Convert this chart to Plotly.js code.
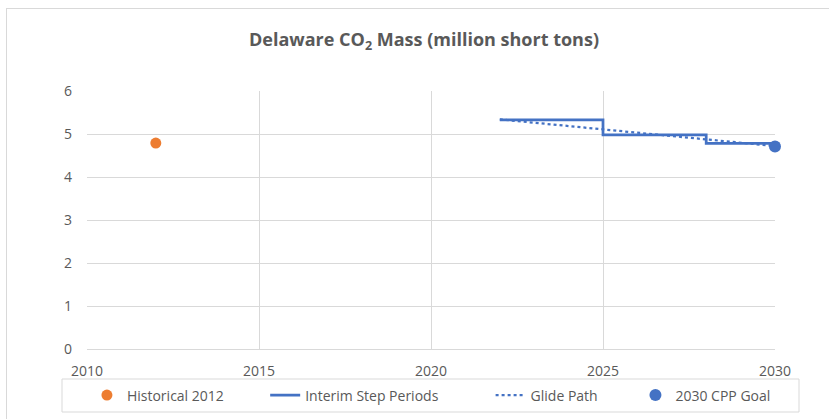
<!DOCTYPE html>
<html>
<head>
<meta charset="utf-8">
<script src="https://cdn.plot.ly/plotly-3.0.1.min.js"></script>
<style>
  html, body { margin: 0; padding: 0; background: #fff; overflow: hidden; }
  #chart { width: 829px; height: 419px; }
  #frame { position: absolute; left: 6px; top: 8px; width: 900px; height: 500px; border: 1px solid #d9d9d9; pointer-events: none; }
</style>
</head>
<body>
<div id="chart"></div>
<div id="frame"></div>
<script>
// Data
const histYears = [2012];
const histValues = [4.79];

const stepYears = [2022, 2025, 2028, 2030];
const stepValues = [5.33, 4.98, 4.78, 4.78];

const glideYears = [2022, 2030];
const glideValues = [5.34, 4.72];

const goalYears = [2030];
const goalValues = [4.71];

const xTicks = [2010, 2015, 2020, 2025, 2030];
const yTicks = [0, 1, 2, 3, 4, 5, 6];

const seriesNames = ['Historical 2012', 'Interim Step Periods', 'Glide Path', '2030 CPP Goal'];

const fontFam = 'Open Sans, Lato, sans-serif';
const gray = '#595959';
const pad = n => '\u00a0'.repeat(n);

const traces = [
  {
    x: histYears, y: histValues, name: seriesNames[0] + pad(10),
    mode: 'markers', type: 'scatter', cliponaxis: false,
    marker: { color: '#ed7d31', size: 11 }
  },
  {
    x: stepYears, y: stepValues, name: seriesNames[1] + pad(13),
    mode: 'lines', type: 'scatter', cliponaxis: false,
    line: { color: '#4472c4', width: 2.75, shape: 'hv' }
  },
  {
    x: glideYears, y: glideValues, name: seriesNames[2] + pad(9),
    mode: 'lines', type: 'scatter', cliponaxis: false,
    line: { color: '#4472c4', width: 2.25, dash: 'dot' }
  },
  {
    x: goalYears, y: goalValues, name: seriesNames[3],
    mode: 'markers', type: 'scatter', cliponaxis: false,
    marker: { color: '#4472c4', size: 12 }
  }
];

const px = v => (v - 87) / 688;
const py = v => (349 - v) / 258;

const layout = {
  width: 829, height: 419,
  margin: { l: 87, r: 54, t: 91, b: 70, autoexpand: false },
  paper_bgcolor: '#fff', plot_bgcolor: '#fff',
  font: { family: fontFam, color: gray, size: 14 },
  title: {
    text: '<b>Delaware CO<sub>2</sub> Mass (million short tons)</b>',
    font: { family: fontFam, size: 18, color: gray },
    x: 424 / 829, xanchor: 'center', y: 0.905, yanchor: 'middle'
  },
  xaxis: {
    range: [2010, 2030], tickvals: xTicks, ticktext: xTicks.map(String),
    showgrid: true, gridcolor: '#d9d9d9', gridwidth: 1,
    showline: true, linecolor: '#d9d9d9', linewidth: 1,
    zeroline: false, ticks: '', fixedrange: true, ticklabelstandoff: 9,
    tickfont: { size: 14, color: gray, family: fontFam }
  },
  yaxis: {
    range: [0, 6], tickvals: yTicks, ticktext: yTicks.map(String),
    showgrid: true, gridcolor: '#d9d9d9', gridwidth: 1,
    showline: false, zeroline: false, ticks: '', ticklabelstandoff: 14,
    tickfont: { size: 14, color: gray, family: fontFam }
  },
  shapes: [
    {
      type: 'rect', xref: 'paper', yref: 'paper',
      x0: px(62), x1: px(799), y0: py(379), y1: py(412),
      line: { color: '#d9d9d9', width: 1 }, fillcolor: 'rgba(0,0,0,0)', layer: 'below'
    }
  ],
  showlegend: true,
  legend: {
    orientation: 'h', xref: 'paper', yref: 'paper',
    x: -0.0001, xanchor: 'left', y: py(395.5), yanchor: 'middle',
    borderwidth: 0, bgcolor: 'rgba(0,0,0,0)',
    font: { size: 14, color: gray, family: fontFam },
    itemwidth: 30, tracegroupgap: 0
  }
};

Plotly.newPlot('chart', traces, layout, { displayModeBar: false, staticPlot: true });
</script>
</body>
</html>
